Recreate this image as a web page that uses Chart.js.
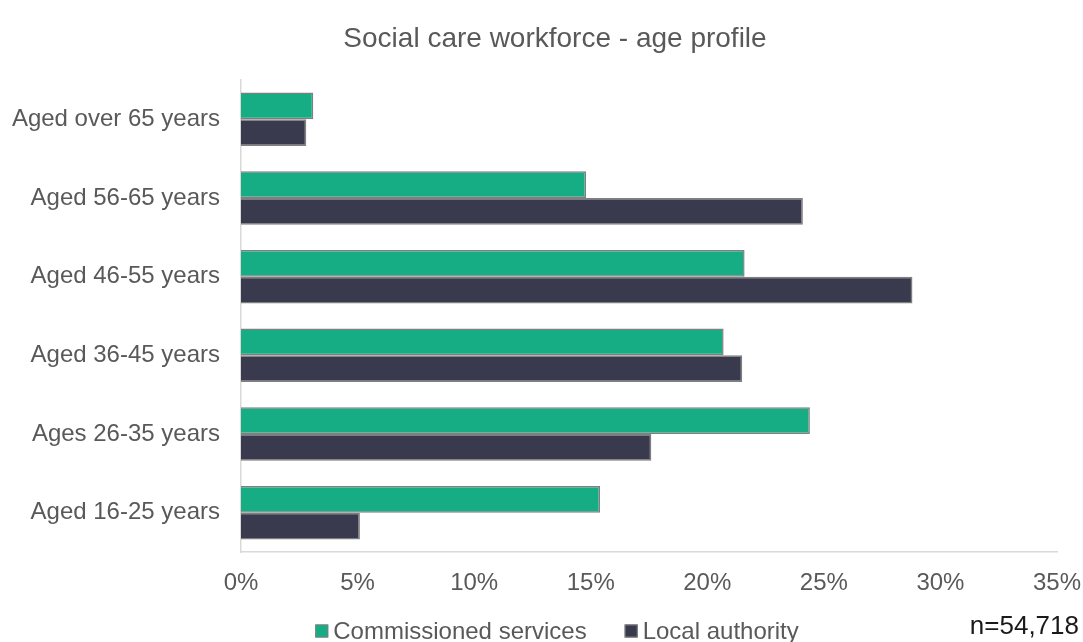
<!DOCTYPE html>
<html>
<head>
<meta charset="utf-8">
<script src="https://cdn.jsdelivr.net/npm/chart.js@4/dist/chart.umd.min.js"></script>
<style>
  html, body { margin: 0; padding: 0; background: #fff; }
  #wrap { width: 1083px; height: 642px; }
</style>
</head>
<body>
<div id="wrap"><canvas id="chart"></canvas></div>
<script>
const ageGroups = [
  "Aged over 65 years",
  "Aged 56-65 years",
  "Aged 46-55 years",
  "Aged 36-45 years",
  "Ages 26-35 years",
  "Aged 16-25 years"
];
const commissioned = [3.1, 14.8, 21.6, 20.7, 24.4, 15.4];
const localAuthority = [2.8, 24.1, 28.8, 21.5, 17.6, 5.1];
const chartTitle = "Social care workforce - age profile";
const sampleNote = "n=54,718";

const FONT = "'Liberation Sans', Arial, sans-serif";
const GREY = "#595959";
const EDGE = "#7f7f7f";

// title, legend and sample-size note are painted by hand so they can sit
// off-centre the way the original report layout has them
const decorPlugin = {
  id: "decor",
  afterDraw(chart) {
    const ctx = chart.ctx;
    ctx.save();

    ctx.font = "28px " + FONT;
    ctx.fillStyle = GREY;
    ctx.textAlign = "center";
    ctx.textBaseline = "middle";
    ctx.fillText(chartTitle, 555, 39);

    // legend
    ctx.font = "24px " + FONT;
    ctx.textAlign = "left";
    const box = 13, gapText = 5, gapItem = 38;
    const items = chart.data.datasets.map((ds) => ({
      label: ds.label,
      color: ds.backgroundColor,
      w: box + gapText + ctx.measureText(ds.label).width
    }));
    const total = items.reduce((s, it) => s + it.w, 0) + gapItem * (items.length - 1);
    let x = 557 - total / 2;
    const cy = 631;
    items.forEach((it) => {
      ctx.fillStyle = it.color;
      ctx.fillRect(x, cy - box / 2, box, box);
      ctx.strokeStyle = EDGE;
      ctx.lineWidth = 1;
      ctx.strokeRect(x + 0.5, cy - box / 2 + 0.5, box - 1, box - 1);
      ctx.fillStyle = GREY;
      ctx.fillText(it.label, x + box + gapText, cy + 1);
      x += it.w + gapItem;
    });

    ctx.font = "26px " + FONT;
    ctx.fillStyle = "#1a1a1a";
    ctx.textAlign = "right";
    ctx.fillText(sampleNote, 1079, 627);
    ctx.restore();
  }
};

new Chart(document.getElementById("chart"), {
  type: "bar",
  data: {
    labels: ageGroups,
    datasets: [
      {
        label: "Commissioned services",
        data: commissioned,
        backgroundColor: "#17ad84",
        borderColor: EDGE,
        borderWidth: 1.5,
        categoryPercentage: 0.68,
        barPercentage: 1.0
      },
      {
        label: "Local authority",
        data: localAuthority,
        backgroundColor: "#393a4e",
        borderColor: EDGE,
        borderWidth: 1.5,
        categoryPercentage: 0.68,
        barPercentage: 1.0
      }
    ]
  },
  options: {
    indexAxis: "y",
    responsive: true,
    maintainAspectRatio: false,
    animation: false,
    layout: { padding: { left: 12, right: 0, top: 80, bottom: 44 } },
    scales: {
      x: {
        min: 0,
        max: 35,
        grid: { display: false, drawTicks: false },
        border: { display: true, color: "#d9d9d9", width: 1.5 },
        ticks: {
          stepSize: 5,
          padding: 17,
          color: GREY,
          font: { family: FONT, size: 24 },
          callback: (v) => v + "%"
        },
        afterFit(scale) {
          // room on the right for the "35%" label
          scale.height = 46;
          scale.paddingRight = 26;
        }
      },
      y: {
        grid: { display: false, drawTicks: false },
        border: { display: true, color: "#d9d9d9", width: 1.5 },
        ticks: {
          padding: 21,
          color: GREY,
          font: { family: FONT, size: 24 }
        },
        afterFit(scale) {
          scale.width = 229;
        }
      }
    },
    plugins: {
      title: { display: false },
      legend: { display: false },
      tooltip: { enabled: false }
    }
  },
  plugins: [decorPlugin]
});
</script>
</body>
</html>
